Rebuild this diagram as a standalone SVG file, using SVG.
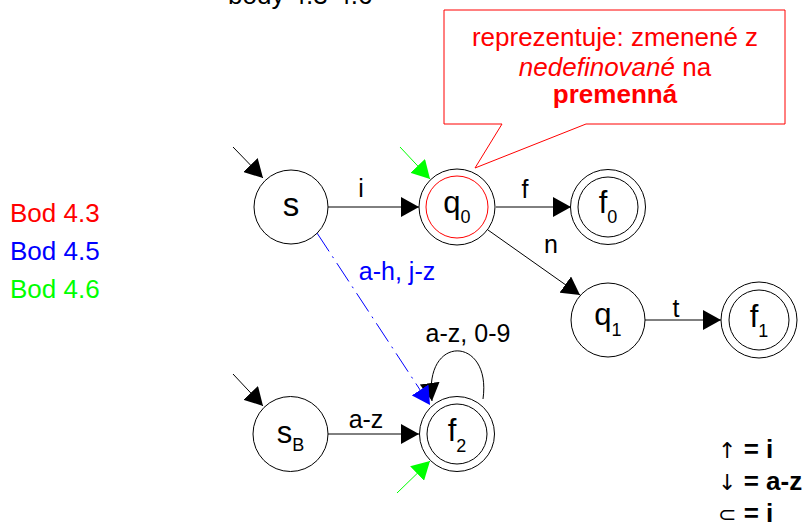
<svg xmlns="http://www.w3.org/2000/svg" width="805" height="527" viewBox="0 0 805 527">
<style>
text{font-family:"Liberation Sans",Arial,sans-serif;fill:#000}
.st{fill:#fff;stroke:#000;stroke-width:1}
.in{fill:none;stroke:#000;stroke-width:1}
.nl{font-size:31px}
.sub{font-size:18px}
.el{font-size:25px}
.e{fill:none;stroke:#000;stroke-width:1}
.lg{font-size:26px}
.sym{font-family:"DejaVu Sans",sans-serif;font-size:22px}
</style>
<defs>
<marker id="ak" markerUnits="userSpaceOnUse" markerWidth="20" markerHeight="20" refX="18" refY="10" orient="auto"><path d="M0,0 L18,10 L0,20 z" fill="#000"/></marker>
<marker id="ab" markerUnits="userSpaceOnUse" markerWidth="20" markerHeight="20" refX="18" refY="10" orient="auto"><path d="M0,0 L18,10 L0,20 z" fill="#00f"/></marker>
<marker id="ag" markerUnits="userSpaceOnUse" markerWidth="20" markerHeight="20" refX="18" refY="10" orient="auto"><path d="M0,0 L18,10 L0,20 z" fill="#0f0"/></marker>
</defs>
<rect width="805" height="527" fill="#fff"/>
<text x="228" y="4" font-size="26">body 4.3-4.6</text>
<g id="legend-left">
<text x="10" y="222" class="lg" style="fill:#f00">Bod 4.3</text>
<text x="10" y="260" class="lg" style="fill:#00f">Bod 4.5</text>
<text x="10" y="298" class="lg" style="fill:#0f0">Bod 4.6</text>
</g>
<g id="connectors">
<line class="e" x1="233" y1="147" x2="263" y2="178" marker-end="url(#ak)"/>
<line class="e" x1="233" y1="374" x2="263" y2="406" marker-end="url(#ak)"/>
<line x1="400" y1="147" x2="430" y2="179" stroke="#0f0" stroke-width="1" marker-end="url(#ag)"/>
<line x1="397" y1="493" x2="430" y2="461" stroke="#0f0" stroke-width="1" marker-end="url(#ag)"/>
<line class="e" x1="328" y1="207" x2="419" y2="207" marker-end="url(#ak)"/>
<text x="361" y="197" class="el" text-anchor="middle">i</text>
<line class="e" x1="496" y1="207" x2="571" y2="207" marker-end="url(#ak)"/>
<text x="525" y="198" class="el" text-anchor="middle">f</text>
<line class="e" x1="488" y1="230" x2="580" y2="295" marker-end="url(#ak)"/>
<text x="551" y="253" class="el" text-anchor="middle">n</text>
<line class="e" x1="645" y1="320" x2="721" y2="320" marker-end="url(#ak)"/>
<text x="676" y="317" class="el" text-anchor="middle">t</text>
<line class="e" x1="328" y1="434" x2="419" y2="434" marker-end="url(#ak)"/>
<text x="366" y="428" class="el" text-anchor="middle">a-z</text>
<path class="e" d="M483,399 C492,336 423,333 432,401" marker-end="url(#ak)"/>
<text x="468" y="342" class="el" text-anchor="middle">a-z, 0-9</text>
<line x1="317" y1="233" x2="430" y2="405" stroke="#00f" stroke-width="1" stroke-dasharray="22,6,2,6" marker-end="url(#ab)"/>
<text x="397" y="280" class="el" text-anchor="middle" style="fill:#00f">a-h, j-z</text>
</g>
<g id="node-s">
<circle class="st" cx="291" cy="207" r="37"/>
<text x="291" y="216" font-size="33" text-anchor="middle">s</text>
</g>
<g id="node-q0">
<circle class="st" cx="457" cy="207" r="38"/>
<circle cx="457" cy="207" r="31" fill="none" stroke="#f00" stroke-width="1"/>
<text x="457" y="213" class="nl" text-anchor="middle">q<tspan class="sub" dy="10">0</tspan></text>
</g>
<g id="node-f0">
<circle class="st" cx="608" cy="207" r="37.5"/>
<circle class="in" cx="608" cy="207" r="30"/>
<text x="608" y="213" class="nl" text-anchor="middle">f<tspan class="sub" dy="10">0</tspan></text>
</g>
<g id="node-q1">
<circle class="st" cx="608" cy="320" r="37"/>
<text x="608" y="325" class="nl" text-anchor="middle">q<tspan class="sub" dy="11">1</tspan></text>
</g>
<g id="node-f1">
<circle class="st" cx="759" cy="320" r="38"/>
<circle class="in" cx="759" cy="320" r="30"/>
<text x="759" y="327" class="nl" text-anchor="middle">f<tspan class="sub" dy="10">1</tspan></text>
</g>
<g id="node-sB">
<circle class="st" cx="290.5" cy="434" r="37.5"/>
<text x="290.5" y="443" class="nl" text-anchor="middle">s<tspan class="sub" dy="8">B</tspan></text>
</g>
<g id="node-f2">
<circle class="st" cx="457" cy="434" r="37.5"/>
<circle class="in" cx="457" cy="434" r="30"/>
<text x="457" y="441" class="nl" text-anchor="middle">f<tspan class="sub" dy="11">2</tspan></text>
</g>
<g id="callout">
<polygon points="444,10 785,10 785,124 586,124 475,168 502,124 444,124" fill="#fff" stroke="#f00" stroke-width="1"/>
<text x="615" y="46" font-size="26" text-anchor="middle" style="fill:#f00">reprezentuje: zmenené z</text>
<text x="615" y="76" font-size="26" text-anchor="middle" style="fill:#f00"><tspan font-style="italic">nedefinované</tspan> na</text>
<text x="615" y="103" font-size="26" font-weight="bold" text-anchor="middle" style="fill:#f00">premenná</text>
</g>
<g id="legend-right">
<text x="718" y="458" font-size="26"><tspan class="sym">↑</tspan> <tspan font-weight="bold">= i</tspan></text>
<text x="718" y="490" font-size="26"><tspan class="sym">↓</tspan> <tspan font-weight="bold">= a-z</tspan></text>
<text x="718" y="522" font-size="26"><tspan class="sym">⊂</tspan> <tspan font-weight="bold">= i</tspan></text>
</g>
</svg>
